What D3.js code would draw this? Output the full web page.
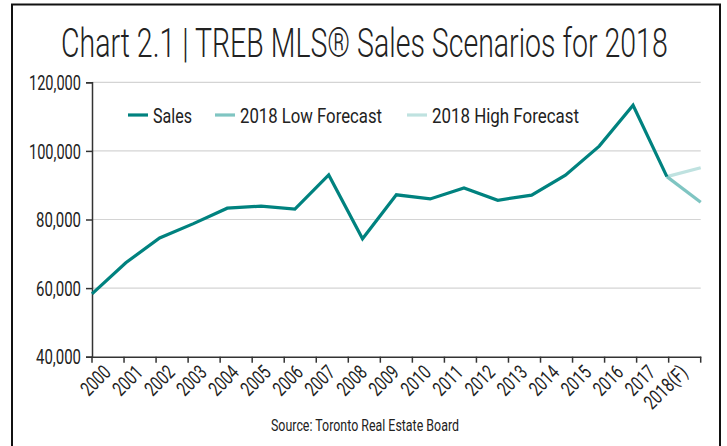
<!DOCTYPE html>
<html><head><meta charset="utf-8">
<script src="https://cdn.jsdelivr.net/npm/d3@7"></script>
<style>
html,body{margin:0;padding:0;background:#fff;}
svg text{font-family:Roboto,'Liberation Sans',sans-serif;fill:#222;}
</style></head>
<body><svg id="c" width="727" height="446"></svg>
<script>
const years = ["2000","2001","2002","2003","2004","2005","2006","2007","2008","2009","2010","2011","2012","2013","2014","2015","2016","2017","2018(F)"];
const sales = [58300,67400,74600,78800,83300,83900,83000,93000,74400,87200,86000,89200,85600,87100,92900,101400,113300,92500,null];
const lowForecast = [["2017",92500],["2018(F)",85000]];
const highForecast = [["2017",92500],["2018(F)",95100]];
const yTicks = [40000,60000,80000,100000,120000];
const legendItems = ["Sales","2018 Low Forecast","2018 High Forecast"];
const colors = ["#00827f","#7fc5c2","#bfe2e0"];

const svg = d3.select("#c");
svg.append("rect").attr("x",12).attr("y",4.5).attr("width",708).attr("height",450)
  .attr("fill","none").attr("stroke","#111").attr("stroke-width",2);

const title = svg.append("text").attr("x",0).attr("y",0)
  .attr("font-size",41).style("font-weight",300)
  .text("Chart 2.1 | TREB MLS® Sales Scenarios for 2018");
const tw = title.node().getComputedTextLength();
title.attr("transform",`translate(61,57) scale(${607/tw},1)`);

const x0 = 92, x1 = 700.7, yTop = 82.3, yBot = 356.7;
const y = d3.scaleLinear().domain([40000,120000]).range([yBot,yTop]);
const xb = d3.scaleBand().domain(years).range([x0,x1]);
const xp = d3.scalePoint().domain(years).range([x0,x1]);

// gridlines
svg.append("g").selectAll("line").data(yTicks.slice(1)).join("line")
  .attr("x1",x0).attr("x2",x1).attr("y1",d=>y(d)).attr("y2",d=>y(d))
  .attr("stroke","#d4d4d4").attr("stroke-width",1.2);

// y axis
const ya = svg.append("g").attr("transform",`translate(${x0},0)`)
  .call(d3.axisLeft(y).tickValues(yTicks).tickFormat(d3.format(",")).tickSize(6).tickPadding(5));
ya.attr("font-family",null);
ya.select(".domain").attr("stroke","#333").attr("stroke-width",1.5);
ya.selectAll(".tick line").attr("stroke","#333").attr("stroke-width",1.5);
ya.selectAll(".tick text").attr("font-size",20).style("fill","#222").attr("dy","0.36em")
  .attr("textLength",d=>d>=100000?52:45).attr("lengthAdjust","spacingAndGlyphs");

// x axis
const xa = svg.append("g").attr("transform",`translate(0,${yBot})`)
  .call(d3.axisBottom(xb).tickSize(0).tickPadding(0));
xa.attr("font-family",null);
xa.select(".domain").attr("stroke","#333").attr("stroke-width",1.5);
xa.selectAll(".tick text").attr("font-size",20).style("fill","#222")
  .attr("text-anchor","end").attr("dy",null)
  .attr("textLength",d=>d.length>4?52:33).attr("lengthAdjust","spacingAndGlyphs")
  .attr("transform","translate(4,17) rotate(-45)");
const bounds = years.map(d=>xb(d)).concat([x1]);
svg.append("g").selectAll("line").data(bounds).join("line")
  .attr("x1",d=>d).attr("x2",d=>d).attr("y1",yBot).attr("y2",yBot+6)
  .attr("stroke","#333").attr("stroke-width",1.5);

// lines
const line = d3.line().defined(d=>d[1]!=null).x(d=>xp(d[0])).y(d=>y(d[1]));
svg.append("path").datum(highForecast).attr("d",line).attr("fill","none")
  .attr("stroke",colors[2]).attr("stroke-width",3.2);
svg.append("path").datum(lowForecast).attr("d",line).attr("fill","none")
  .attr("stroke",colors[1]).attr("stroke-width",3.2);
svg.append("path").datum(years.map((d,i)=>[d,sales[i]])).attr("d",line).attr("fill","none")
  .attr("stroke",colors[0]).attr("stroke-width",3.2).attr("stroke-linejoin","miter");

// legend
const legX = [128,215,407], legW=[39,142,147];
const lg = svg.append("g");
legendItems.forEach((t,i)=>{
  lg.append("line").attr("x1",legX[i]).attr("x2",legX[i]+20).attr("y1",115).attr("y2",115)
    .attr("stroke",colors[i]).attr("stroke-width",3.2);
  lg.append("text").attr("x",legX[i]+25).attr("y",122.5).attr("font-size",21)
    .attr("textLength",legW[i]).attr("lengthAdjust","spacingAndGlyphs").text(t);
});

svg.append("text").attr("x",271).attr("y",431)
  .attr("font-size",17).attr("textLength",188).attr("lengthAdjust","spacingAndGlyphs")
  .text("Source: Toronto Real Estate Board");
</script></body></html>
